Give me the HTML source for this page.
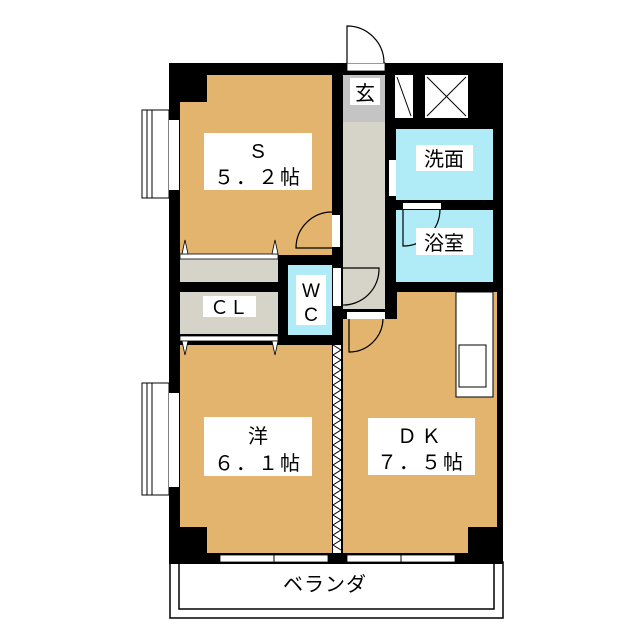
<!DOCTYPE html>
<html><head><meta charset="utf-8"><style>
html,body{margin:0;padding:0;background:#fff}
svg{display:block}
text{font-family:"Liberation Sans","Noto Sans CJK JP",sans-serif;fill:#000}
</style></head><body>
<svg width="640" height="640" viewBox="0 0 640 640">
<rect x="170" y="562" width="333" height="56" fill="#fff" stroke="#000" stroke-width="1.5"/>
<rect x="179" y="562" width="315" height="47" fill="none" stroke="#000" stroke-width="1.5"/>
<rect x="169" y="63" width="334" height="501" fill="#000"/>
<polygon points="207,75 332,75 332,255 180,255 180,102 207,102" fill="#e2b46e"/>
<rect x="343" y="75" width="42" height="234" fill="#d6d3c8"/>
<rect x="343" y="75" width="42" height="47" fill="#c4c4c4"/>
<rect x="395" y="75" width="18" height="43" fill="#fff"/>
<line x1="397" y1="77" x2="411" y2="116" stroke="#000" stroke-width="1"/>
<rect x="425" y="75" width="43" height="43" fill="#fff"/>
<line x1="427" y1="77" x2="466" y2="116" stroke="#000" stroke-width="1"/>
<line x1="466" y1="77" x2="427" y2="116" stroke="#000" stroke-width="1"/>
<rect x="396" y="129" width="97" height="71" fill="#b0ecf8"/>
<rect x="396" y="210" width="97" height="72" fill="#b0ecf8"/>
<rect x="180" y="258" width="98" height="24" fill="#d6d3c8"/>
<rect x="180" y="292" width="98" height="42" fill="#d6d3c8"/>
<rect x="288" y="265" width="44" height="70" fill="#b0ecf8"/>
<polygon points="343,319 397,319 397,292 497,292 497,527 468,527 468,553 343,553" fill="#e2b46e"/>
<polygon points="180,345 332,345 332,553 207,553 207,527 180,527" fill="#e2b46e"/>
<rect x="333" y="345" width="8" height="208" fill="#fff"/>
<polyline points="333,345 341,350 333,355 341,360 333,365 341,370 333,375 341,380 333,385 341,390 333,395 341,400 333,405 341,410 333,415 341,420 333,425 341,430 333,435 341,440 333,445 341,450 333,455 341,460 333,465 341,470 333,475 341,480 333,485 341,490 333,495 341,500 333,505 341,510 333,515 341,520 333,525 341,530 333,535 341,540 333,545 341,550" fill="none" stroke="#000" stroke-width="1"/>
<rect x="456" y="292" width="37" height="105" fill="#fff" stroke="#000" stroke-width="1"/>
<rect x="459" y="345" width="27" height="42" fill="#fff" stroke="#000" stroke-width="1"/>
<rect x="180" y="254" width="98" height="5" fill="#fff" stroke="#000" stroke-width="0.8"/>
<rect x="180" y="336" width="98" height="5" fill="#fff" stroke="#000" stroke-width="0.8"/>
<polygon points="182,254 185,240 188,254" fill="#fff" stroke="#000" stroke-width="0.8"/>
<polygon points="272,254 275,240 278,254" fill="#fff" stroke="#000" stroke-width="0.8"/>
<polygon points="182,341 185,355 188,341" fill="#fff" stroke="#000" stroke-width="0.8"/>
<polygon points="272,341 275,355 278,341" fill="#fff" stroke="#000" stroke-width="0.8"/>
<rect x="347" y="63" width="38" height="8" fill="#fff" stroke="#000" stroke-width="0.8"/>
<path d="M347,63 L347,26 A37,37 0 0 1 384,63" fill="#fff" stroke="#000" stroke-width="1.2"/>
<rect x="332" y="215" width="8" height="32" fill="#fff"/>
<path d="M332,248 L296,248 A36,36 0 0 1 332,212" fill="none" stroke="#000" stroke-width="1.2"/>
<rect x="333" y="268" width="8" height="38" fill="#fff"/>
<path d="M341,305 A36,36 0 0 0 379,268 L341,268" fill="none" stroke="#000" stroke-width="1.2"/>
<rect x="347" y="312" width="38" height="7" fill="#fff"/>
<path d="M349,319 L349,352 A34,34 0 0 0 383,319" fill="none" stroke="#000" stroke-width="1.2"/>
<rect x="389" y="160" width="7" height="36" fill="#fff"/>
<rect x="403" y="203" width="38" height="6" fill="#fff"/>
<path d="M403,209 L403,246 A37,37 0 0 0 440,209" fill="none" stroke="#000" stroke-width="1.2"/>
<rect x="142" y="110" width="27" height="88" fill="#fff" stroke="#000" stroke-width="1"/>
<line x1="147" y1="110" x2="147" y2="198" stroke="#000"/>
<line x1="152" y1="110" x2="152" y2="198" stroke="#000"/>
<rect x="169" y="120" width="10" height="70" fill="#fff"/>
<rect x="142" y="383" width="27" height="112" fill="#fff" stroke="#000" stroke-width="1"/>
<line x1="147" y1="383" x2="147" y2="495" stroke="#000"/>
<line x1="152" y1="383" x2="152" y2="495" stroke="#000"/>
<rect x="169" y="393" width="10" height="94" fill="#fff"/>
<rect x="220" y="555" width="108" height="7" fill="#fff" stroke="#000" stroke-width="0.8"/>
<line x1="274" y1="553" x2="274" y2="564" stroke="#000"/>
<rect x="347" y="555" width="108" height="7" fill="#fff" stroke="#000" stroke-width="0.8"/>
<line x1="401" y1="553" x2="401" y2="564" stroke="#000"/>
<rect x="204" y="133" width="108" height="57" fill="#fff"/>
<text x="258" y="158" font-size="20" text-anchor="middle">S</text>
<text x="258" y="184" font-size="20" text-anchor="middle" letter-spacing="2">５．２帖</text>
<rect x="204" y="417" width="108" height="59" fill="#fff"/>
<text x="258" y="443" font-size="20" text-anchor="middle">洋</text>
<text x="258" y="470" font-size="20" text-anchor="middle" letter-spacing="2">６．１帖</text>
<rect x="368" y="418" width="107" height="57" fill="#fff"/>
<text x="421" y="443" font-size="20" text-anchor="middle" letter-spacing="4">ＤＫ</text>
<text x="421" y="469" font-size="20" text-anchor="middle" letter-spacing="2">７．５帖</text>
<rect x="416" y="145" width="57" height="26" fill="#fff"/>
<text x="444" y="166" font-size="20" text-anchor="middle">洗面</text>
<rect x="416" y="228" width="57" height="27" fill="#fff"/>
<text x="444" y="250" font-size="20" text-anchor="middle">浴室</text>
<rect x="350" y="78" width="30" height="27" fill="#fff"/>
<text x="365" y="100" font-size="20" text-anchor="middle">玄</text>
<rect x="296" y="275" width="30" height="50" fill="#fff"/>
<text x="311" y="297" font-size="19" text-anchor="middle">W</text>
<text x="311" y="321" font-size="19" text-anchor="middle">C</text>
<rect x="203" y="296" width="53" height="21" fill="#fff"/>
<text x="229" y="314" font-size="19" text-anchor="middle">ＣＬ</text>
<text x="325" y="591" font-size="20" text-anchor="middle" letter-spacing="1">ベランダ</text>
</svg>
</body></html>
